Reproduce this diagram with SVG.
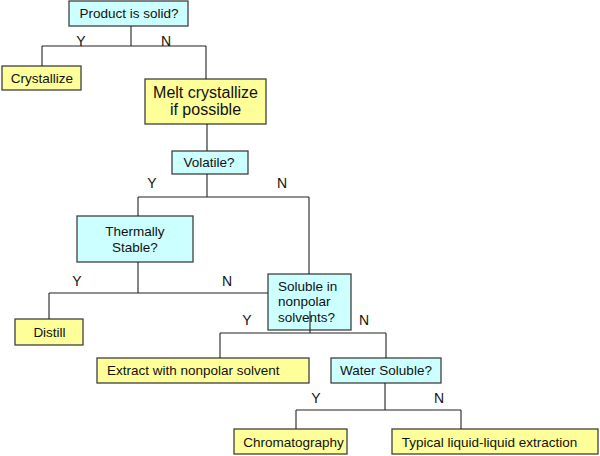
<svg xmlns="http://www.w3.org/2000/svg" width="600" height="456" viewBox="0 0 600 456">
<style>
  .q { fill: #ccffff; stroke: #404040; stroke-width: 1.3; }
  .a { fill: #ffff99; stroke: #404040; stroke-width: 1.3; }
  text { font-family: "Liberation Sans", Arial, sans-serif; font-size: 13.5px; fill: #111; }
  .c { text-anchor: middle; }
  .big { font-size: 16px; }
  .yn { font-size: 14px; text-anchor: middle; }
  .conn line { stroke: #222; stroke-width: 1.1; }
</style>
<rect width="600" height="456" fill="#ffffff"/>
<g id="n-product"><rect class="q" x="69" y="1" width="119" height="25"/><text class="c" x="129" y="18">Product is solid?</text></g>
<g id="n-crystallize"><rect class="a" x="2" y="66" width="79" height="24"/><text class="c" x="42" y="83">Crystallize</text></g>
<g id="n-melt"><rect class="a" x="145" y="79" width="121" height="45"/><text class="c big" x="205.5" y="98">Melt crystallize</text><text class="c big" x="205.5" y="115">if possible</text></g>
<g id="n-volatile"><rect class="q" x="172" y="151" width="76" height="23"/><text class="c" x="209" y="167">Volatile?</text></g>
<g id="n-thermal"><rect class="q" x="77" y="216" width="116" height="46"/><text class="c" x="135" y="236">Thermally</text><text class="c" x="135" y="252">Stable?</text></g>
<g id="n-soluble"><rect class="q" x="268" y="274" width="83" height="56"/><text x="278" y="291">Soluble in</text><text x="278" y="306">nonpolar</text><text x="278" y="322">solvents?</text></g>
<g id="n-distill"><rect class="a" x="15" y="319" width="68" height="26"/><text class="c" x="49.5" y="337">Distill</text></g>
<g id="n-extract"><rect class="a" x="97" y="358" width="212" height="25"/><text x="107" y="375">Extract with nonpolar solvent</text></g>
<g id="n-water"><rect class="q" x="331" y="358" width="110" height="25"/><text class="c" x="386" y="375">Water Soluble?</text></g>
<g id="n-chrom"><rect class="a" x="234" y="429" width="113" height="25"/><text class="c" x="293.5" y="447">Chromatography</text></g>
<g id="n-typical"><rect class="a" x="392" y="429" width="206" height="25"/><text class="c" x="489.5" y="447">Typical liquid-liquid extraction</text></g>
<g id="connectors" class="conn">
  <line x1="131" y1="26" x2="131" y2="46"/>
  <line x1="42" y1="46" x2="206" y2="46"/>
  <line x1="42" y1="46" x2="42" y2="66"/>
  <line x1="206" y1="46" x2="206" y2="79"/>
  <line x1="207" y1="124" x2="207" y2="151"/>
  <line x1="207" y1="174" x2="207" y2="197"/>
  <line x1="138" y1="197" x2="309" y2="197"/>
  <line x1="138" y1="197" x2="138" y2="216"/>
  <line x1="309" y1="197" x2="309" y2="274"/>
  <line x1="138" y1="262" x2="138" y2="293"/>
  <line x1="49" y1="293" x2="268" y2="293"/>
  <line x1="49" y1="293" x2="49" y2="319"/>
  <line x1="310" y1="311" x2="310" y2="333"/>
  <line x1="220" y1="333" x2="386" y2="333"/>
  <line x1="220" y1="333" x2="220" y2="358"/>
  <line x1="386" y1="333" x2="386" y2="358"/>
  <line x1="385" y1="383" x2="385" y2="410"/>
  <line x1="296" y1="410" x2="461" y2="410"/>
  <line x1="296" y1="410" x2="296" y2="429"/>
  <line x1="461" y1="410" x2="461" y2="429"/>
</g>
<g id="labels">
  <text class="yn" x="81" y="46">Y</text>
  <text class="yn" x="166" y="46">N</text>
  <text class="yn" x="152" y="188">Y</text>
  <text class="yn" x="282" y="188">N</text>
  <text class="yn" x="77" y="286">Y</text>
  <text class="yn" x="227" y="286">N</text>
  <text class="yn" x="247" y="325">Y</text>
  <text class="yn" x="364" y="325">N</text>
  <text class="yn" x="316" y="403">Y</text>
  <text class="yn" x="439" y="403">N</text>
</g>
</svg>
